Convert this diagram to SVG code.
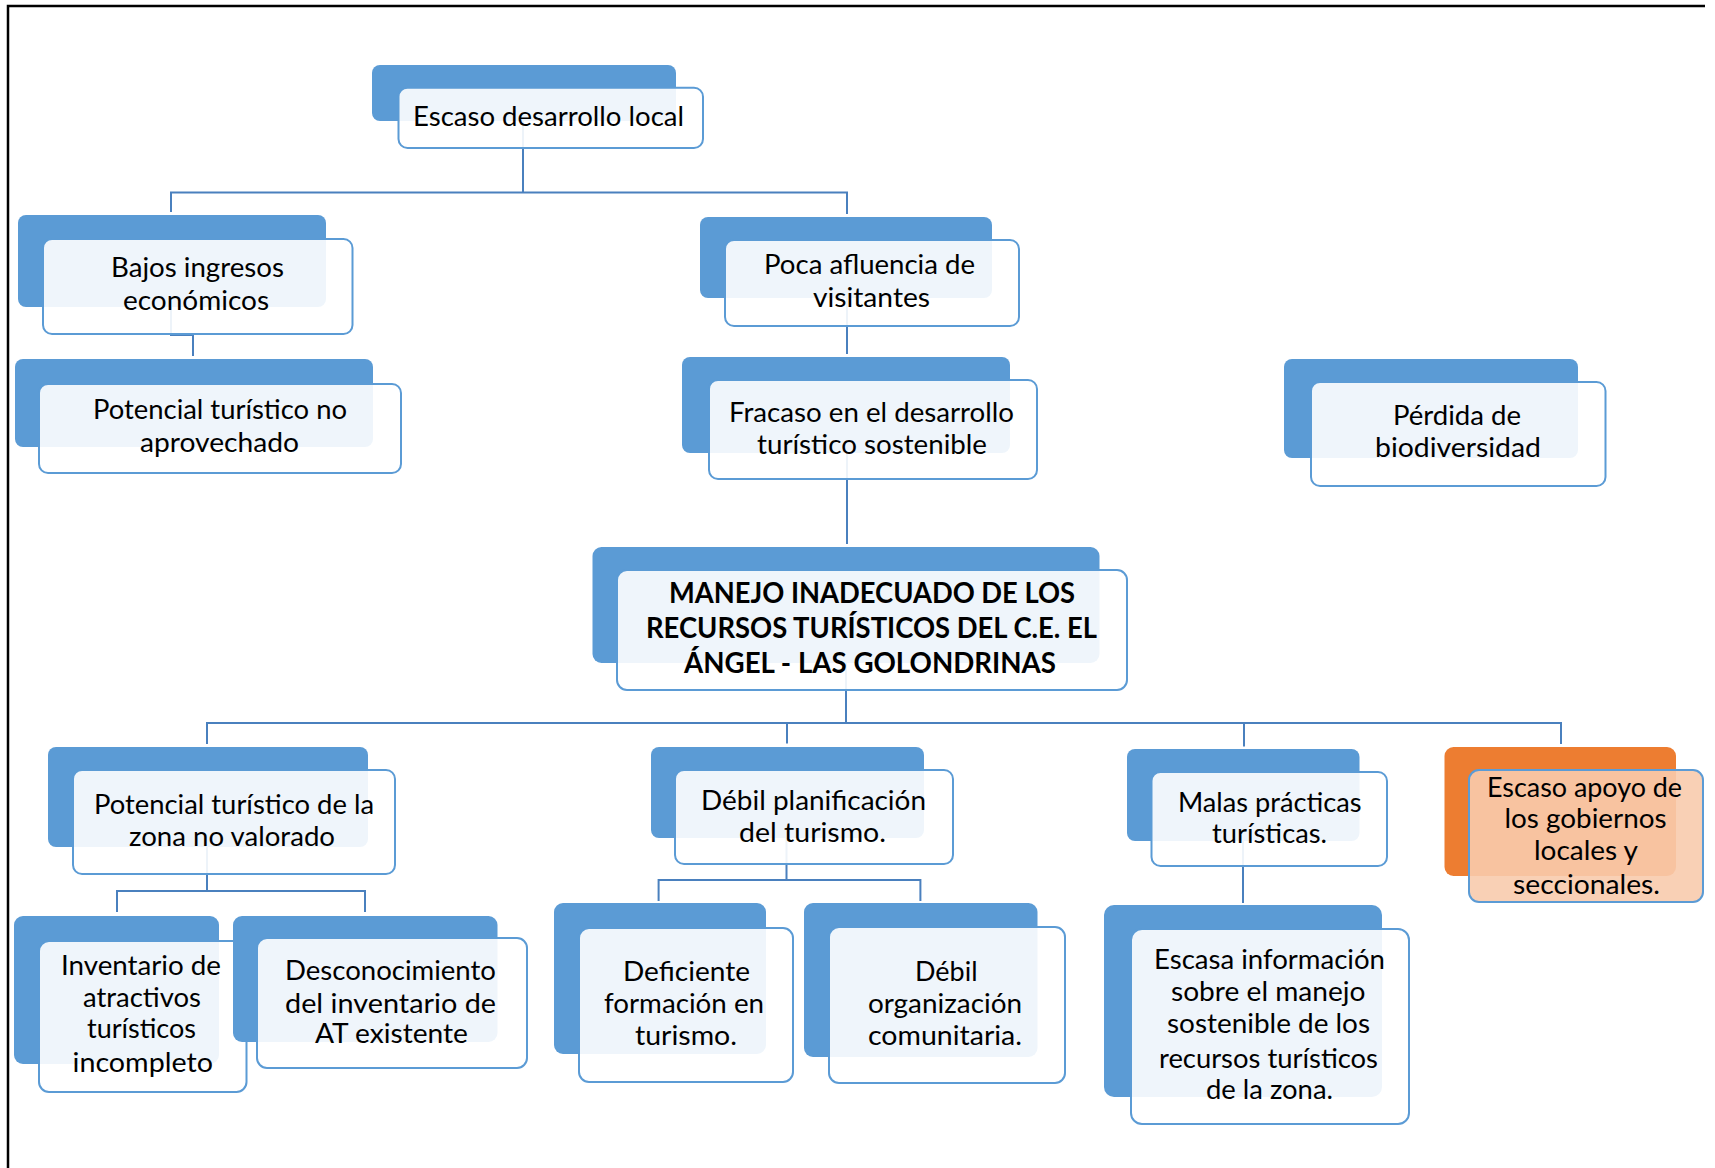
<svg xmlns="http://www.w3.org/2000/svg" width="1715" height="1168" viewBox="0 0 1715 1168">
<style>
.bk{fill:#5B9BD5}
.fr{fill:#FFFFFF;fill-opacity:0.9;stroke:#5B9BD5;stroke-width:2}
.bko{fill:#ED7D31}
.fro{fill:#F8CBAD;fill-opacity:0.9;stroke:#5B9BD5;stroke-width:2}
.t{font-family:Lato,'Liberation Sans',sans-serif;font-size:26px;fill:#000}
.tb{font-family:Lato,'Liberation Sans',sans-serif;font-size:28px;font-weight:bold;fill:#000}
.c{fill:none;stroke:#4A80BE;stroke-width:2}
</style>
<rect x="0" y="0" width="1715" height="1168" fill="#FFFFFF"/>
<path d="M8,1168 V6 H1705" fill="none" stroke="#000" stroke-width="2.5"/>
<g id="connectors">
<path class="c" d="M523,121 V192.5 M171,212 V192.5 H847 V214"/>
<path class="c" d="M171,307 V335 H193 V356"/>
<path class="c" d="M847,298 V354"/>
<path class="c" d="M847,453 V544"/>
<path class="c" d="M846,662 V723 M207,744 V723 H1561 V744 M787,723 V743.5 M1244,723 V746.5"/>
<path class="c" d="M207,847 V891 M117,912 V891 H365 V912"/>
<path class="c" d="M786.5,838 V880 M658.6,901 V880 H920.4 V901"/>
<path class="c" d="M1243,841 V903"/>
</g>
<g id="n-escaso-desarrollo">
<rect class="bk" x="372" y="65" width="304" height="56" rx="8"/>
<rect class="fr" x="398.5" y="87.7" width="304.5" height="60.3" rx="9"/>
<text class="t" x="413" y="126" textLength="271" lengthAdjust="spacingAndGlyphs">Escaso desarrollo local</text>
</g>
<g id="n-bajos-ingresos">
<rect class="bk" x="18" y="215" width="308" height="92" rx="8"/>
<rect class="fr" x="43" y="239" width="309.5" height="95" rx="9"/>
<text class="t" x="111" y="277" textLength="173" lengthAdjust="spacingAndGlyphs">Bajos ingresos</text>
<text class="t" x="123" y="310" textLength="146" lengthAdjust="spacingAndGlyphs">económicos</text>
</g>
<g id="n-potencial-no-aprovechado">
<rect class="bk" x="15" y="359" width="358" height="88" rx="8"/>
<rect class="fr" x="39" y="384" width="362" height="89" rx="9"/>
<text class="t" x="93" y="419" textLength="254" lengthAdjust="spacingAndGlyphs">Potencial turístico no</text>
<text class="t" x="140" y="451.7" textLength="159" lengthAdjust="spacingAndGlyphs">aprovechado</text>
</g>
<g id="n-poca-afluencia">
<rect class="bk" x="700" y="217" width="292" height="81" rx="8"/>
<rect class="fr" x="725" y="240" width="294" height="86" rx="9"/>
<text class="t" x="764" y="274" textLength="211" lengthAdjust="spacingAndGlyphs">Poca afluencia de</text>
<text class="t" x="813" y="306.7" textLength="117" lengthAdjust="spacingAndGlyphs">visitantes</text>
</g>
<g id="n-fracaso">
<rect class="bk" x="682" y="357" width="328" height="96" rx="8"/>
<rect class="fr" x="709" y="380" width="328" height="99" rx="9"/>
<text class="t" x="729" y="421.7" textLength="285" lengthAdjust="spacingAndGlyphs">Fracaso en el desarrollo</text>
<text class="t" x="757" y="454" textLength="230" lengthAdjust="spacingAndGlyphs">turístico sostenible</text>
</g>
<g id="n-perdida">
<rect class="bk" x="1284" y="359" width="294" height="99" rx="8"/>
<rect class="fr" x="1311" y="382" width="294.5" height="104" rx="9"/>
<text class="t" x="1393" y="425" textLength="128" lengthAdjust="spacingAndGlyphs">Pérdida de</text>
<text class="t" x="1375" y="456.7" textLength="166" lengthAdjust="spacingAndGlyphs">biodiversidad</text>
</g>
<g id="n-manejo">
<rect class="bk" x="592.5" y="547" width="507" height="116" rx="9"/>
<rect class="fr" x="617" y="570" width="510" height="120" rx="10"/>
<text class="tb" x="669" y="603.3" textLength="406" lengthAdjust="spacingAndGlyphs">MANEJO INADECUADO DE LOS</text>
<text class="tb" x="646" y="638.3" textLength="451" lengthAdjust="spacingAndGlyphs">RECURSOS TURÍSTICOS DEL C.E. EL</text>
<text class="tb" x="684" y="672.7" textLength="372" lengthAdjust="spacingAndGlyphs">ÁNGEL - LAS GOLONDRINAS</text>
</g>
<g id="n-potencial-zona">
<rect class="bk" x="48" y="747" width="320" height="100" rx="8"/>
<rect class="fr" x="73" y="770" width="322" height="104" rx="9"/>
<text class="t" x="94" y="814.3" textLength="280" lengthAdjust="spacingAndGlyphs">Potencial turístico de la</text>
<text class="t" x="129" y="846" textLength="206" lengthAdjust="spacingAndGlyphs">zona no valorado</text>
</g>
<g id="n-inventario">
<rect class="bk" x="14" y="916" width="205" height="148" rx="9"/>
<rect class="fr" x="39" y="941" width="207.5" height="151" rx="10"/>
<text class="t" x="61" y="975" textLength="160" lengthAdjust="spacingAndGlyphs">Inventario de</text>
<text class="t" x="83" y="1006.7" textLength="118" lengthAdjust="spacingAndGlyphs">atractivos</text>
<text class="t" x="87" y="1038.3" textLength="109" lengthAdjust="spacingAndGlyphs">turísticos</text>
<text class="t" x="72.5" y="1071.7" textLength="140.5" lengthAdjust="spacingAndGlyphs">incompleto</text>
</g>
<g id="n-desconocimiento">
<rect class="bk" x="233" y="916" width="264.5" height="126" rx="9"/>
<rect class="fr" x="257" y="938" width="270" height="130" rx="10"/>
<text class="t" x="285" y="980" textLength="211" lengthAdjust="spacingAndGlyphs">Desconocimiento</text>
<text class="t" x="285" y="1012.7" textLength="211" lengthAdjust="spacingAndGlyphs">del inventario  de</text>
<text class="t" x="315" y="1043.3" textLength="153" lengthAdjust="spacingAndGlyphs">AT existente</text>
</g>
<g id="n-debil-planificacion">
<rect class="bk" x="651" y="747" width="273" height="91" rx="8"/>
<rect class="fr" x="675" y="770" width="278" height="94" rx="9"/>
<text class="t" x="701" y="810" textLength="225" lengthAdjust="spacingAndGlyphs">Débil planificación</text>
<text class="t" x="739" y="842.3" textLength="147" lengthAdjust="spacingAndGlyphs">del turismo.</text>
</g>
<g id="n-deficiente">
<rect class="bk" x="554" y="903" width="212" height="151" rx="9"/>
<rect class="fr" x="579" y="928" width="214" height="154" rx="10"/>
<text class="t" x="623" y="981" textLength="127" lengthAdjust="spacingAndGlyphs">Deficiente</text>
<text class="t" x="604" y="1013.3" textLength="160" lengthAdjust="spacingAndGlyphs">formación en</text>
<text class="t" x="635" y="1045" textLength="102" lengthAdjust="spacingAndGlyphs">turismo.</text>
</g>
<g id="n-debil-organizacion">
<rect class="bk" x="804" y="903" width="233.5" height="154" rx="9"/>
<rect class="fr" x="829" y="927" width="236" height="156" rx="10"/>
<text class="t" x="915" y="981" textLength="62.5" lengthAdjust="spacingAndGlyphs">Débil</text>
<text class="t" x="868" y="1012.7" textLength="154" lengthAdjust="spacingAndGlyphs">organización</text>
<text class="t" x="868" y="1045" textLength="154" lengthAdjust="spacingAndGlyphs">comunitaria.</text>
</g>
<g id="n-malas-practicas">
<rect class="bk" x="1127" y="749" width="232.5" height="92" rx="8"/>
<rect class="fr" x="1151.5" y="772" width="235.5" height="94" rx="9"/>
<text class="t" x="1178" y="811.7" textLength="183.5" lengthAdjust="spacingAndGlyphs">Malas prácticas</text>
<text class="t" x="1212" y="843.3" textLength="115" lengthAdjust="spacingAndGlyphs">turísticas.</text>
</g>
<g id="n-escasa-informacion">
<rect class="bk" x="1104" y="905" width="278" height="192" rx="10"/>
<rect class="fr" x="1131" y="929" width="278" height="195" rx="11"/>
<text class="t" x="1154" y="969.3" textLength="231" lengthAdjust="spacingAndGlyphs">Escasa información</text>
<text class="t" x="1171" y="1001" textLength="194.5" lengthAdjust="spacingAndGlyphs">sobre el manejo</text>
<text class="t" x="1167" y="1033.3" textLength="203" lengthAdjust="spacingAndGlyphs">sostenible de los</text>
<text class="t" x="1159" y="1067.7" textLength="219" lengthAdjust="spacingAndGlyphs">recursos turísticos</text>
<text class="t" x="1206" y="1099.3" textLength="127" lengthAdjust="spacingAndGlyphs">de la zona.</text>
</g>
<g id="n-escaso-apoyo">
<rect class="bko" x="1444.5" y="747" width="231.5" height="129" rx="9"/>
<rect class="fro" x="1469" y="770" width="234" height="132" rx="10"/>
<text class="t" x="1487" y="796.7" textLength="195" lengthAdjust="spacingAndGlyphs">Escaso apoyo de</text>
<text class="t" x="1504.5" y="828.3" textLength="162" lengthAdjust="spacingAndGlyphs">los gobiernos</text>
<text class="t" x="1534" y="860" textLength="104" lengthAdjust="spacingAndGlyphs">locales y</text>
<text class="t" x="1513" y="894" textLength="147" lengthAdjust="spacingAndGlyphs">seccionales.</text>
</g>
</svg>
